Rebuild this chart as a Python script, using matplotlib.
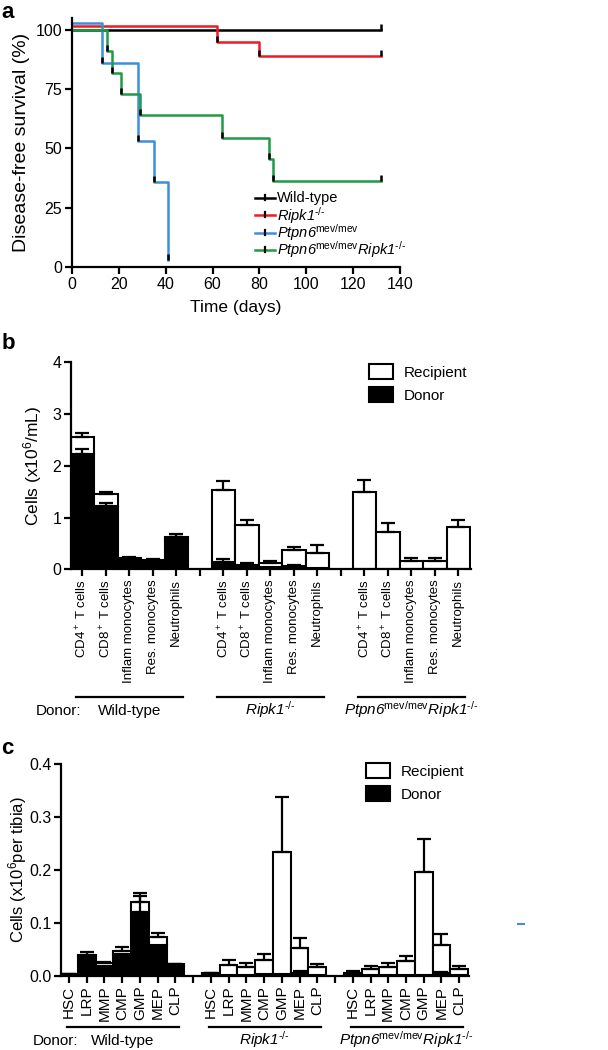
import numpy as np
import matplotlib.pyplot as plt
from matplotlib.lines import Line2D
from matplotlib.patches import Patch
from matplotlib.transforms import blended_transform_factory

plt.rcParams['font.family'] = ['Liberation Sans', 'DejaVu Sans']
plt.rcParams['mathtext.fontset'] = 'custom'
plt.rcParams['mathtext.rm'] = 'Liberation Sans'
plt.rcParams['mathtext.sf'] = 'Liberation Sans:italic'
plt.rcParams['mathtext.it'] = 'Liberation Sans:italic'

# ---- panel a : survival curves ----
wt_t = [0, 132]
wt_s = [100, 100]
ripk1_t = [0, 62, 80, 132]
ripk1_s = [101.5, 95, 89, 89]
ptpn6_t = [0, 13, 28, 35, 41]
ptpn6_s = [103, 86, 53, 36, 3]
dko_t = [0, 15, 17, 21, 29, 64, 84, 86, 132]
dko_s = [100, 91, 82, 73, 64, 54.5, 45.5, 36.4, 36.4]

HY = "\u2010"
KO = r"$\mathsf{Ripk1}^{\mathrm{" + HY + "/" + HY + r"}}$"
MEV = r"$\mathsf{Ptpn6}^{\mathrm{mev/mev}}$"
DKO = r"$\mathsf{Ptpn6}^{\mathrm{mev/mev}}\mathsf{Ripk1}^{\mathrm{" + HY + "/" + HY + r"}}$"
curve_names = ["Wild-type", KO, MEV, DKO]
curve_colors = ["black", "#ec1c24", "#3f8edb", "#1f9a45"]

# ---- panel b : blood cells (x10^6/mL) ----
b_cells = [r"CD4$^+$ T cells", r"CD8$^+$ T cells", "Inflam monocytes",
           "Res. monocytes", "Neutrophils"]
b_wt_total = [2.56, 1.46, 0.225, 0.187, 0.63]
b_wt_total_sem = [0.07, 0.03, 0.01, 0.008, 0.05]
b_wt_donor = [2.22, 1.22, 0.21, 0.17, 0.58]
b_wt_donor_sem = [0.11, 0.07, 0.01, 0.01, 0.04]
b_ripk1_total = [1.53, 0.85, 0.13, 0.37, 0.32]
b_ripk1_total_sem = [0.18, 0.1, 0.04, 0.06, 0.15]
b_ripk1_donor = [0.135, 0.09, 0.04, 0.06, 0.02]
b_ripk1_donor_sem = [0.065, 0.04, 0.0, 0.02, 0.0]
b_dko_total = [1.5, 0.72, 0.155, 0.155, 0.82]
b_dko_total_sem = [0.23, 0.17, 0.055, 0.055, 0.13]
b_dko_donor = [0.005, 0.005, 0.003, 0.003, 0.005]
b_dko_donor_sem = [0, 0, 0, 0, 0]

# ---- panel c : bone marrow progenitors (x10^6 per tibia) ----
c_cells = ["HSC", "LRP", "MMP", "CMP", "GMP", "MEP", "CLP"]
c_wt_total = [0.004, 0.04, 0.024, 0.048, 0.14, 0.073, 0.022]
c_wt_total_sem = [0.0, 0.006, 0.002, 0.006, 0.016, 0.009, 0.0]
c_wt_donor = [0.003, 0.038, 0.018, 0.042, 0.12, 0.059, 0.018]
c_wt_donor_sem = [0.0, 0.0, 0.0, 0.0, 0.03, 0.0, 0.0]
c_ripk1_total = [0.006, 0.02, 0.017, 0.031, 0.233, 0.052, 0.016]
c_ripk1_total_sem = [0.0, 0.01, 0.008, 0.011, 0.105, 0.019, 0.007]
c_ripk1_donor = [0.004, 0.001, 0.001, 0.003, 0.003, 0.006, 0.001]
c_ripk1_donor_sem = [0, 0, 0, 0, 0, 0.003, 0]
c_dko_total = [0.005, 0.0126, 0.016, 0.028, 0.196, 0.058, 0.0126]
c_dko_total_sem = [0.004, 0.006, 0.008, 0.01, 0.062, 0.021, 0.0054]
c_dko_donor = [0.002, 0.001, 0.001, 0.002, 0.002, 0.006, 0.001]
c_dko_donor_sem = [0, 0, 0, 0, 0, 0.002, 0]

donor_groups = ["Wild-type", KO, DKO]

W, H = 608, 1050
fig = plt.figure(figsize=(W / 100, H / 100), dpi=100)


def fx(px):
    return px / W


def fy(px):
    return 1 - px / H


def style_axes(ax):
    for sp in ['top', 'right']:
        ax.spines[sp].set_visible(False)
    for sp in ['left', 'bottom']:
        ax.spines[sp].set_linewidth(1.6)
    ax.tick_params(direction='out', width=1.6, length=5, labelsize=11.5, pad=2)


# ===== a =====
ax = fig.add_axes([0.1184, 0.7457, 0.5395, 0.2372])
style_axes(ax)
curves = [(wt_t, wt_s), (ripk1_t, ripk1_s), (ptpn6_t, ptpn6_s), (dko_t, dko_s)]
for (t, s), col in zip(curves, curve_colors):
    ax.step(t, s, where='post', color=col, lw=1.8, clip_on=False, zorder=2)
    # black event / censor marks
    ax.vlines(t[1:], np.array(s[1:]), np.array(s[1:]) + 2.5, colors='k', lw=1.8, zorder=3)
ax.set_xlim(0, 140)
ax.set_ylim(0, 105)
ax.set_xticks(range(0, 141, 20))
ax.set_yticks([0, 25, 50, 75, 100])
ax.set_xlabel("Time (days)", fontsize=12.5, labelpad=6)
ax.set_ylabel("Disease-free survival (%)", fontsize=14, labelpad=4)

# legend drawn by hand so the rows keep an even spacing
for i, (name, col) in enumerate(zip(curve_names, curve_colors)):
    yy = fy(198 + i * 17.3)
    fig.add_artist(Line2D([fx(255), fx(275)], [yy, yy], color=col, lw=1.8))
    fig.add_artist(Line2D([fx(265), fx(265)], [yy - 2 / H, yy + 3 / H], color='k', lw=1.6))
    fig.text(fx(277), yy, name, fontsize=10.5, va='center', ha='left')
fig.text(0.002, 0.998, "a", fontsize=16, fontweight='bold', va='top', ha='left')


def stacked_panel(ax, groups, labels, gap_step, lbl_size):
    n = len(labels)
    ticks, ticklabels = [], []
    for g, (tot, tot_sem, don, don_sem) in enumerate(groups):
        pos = np.arange(n) + g * gap_step
        tot = np.array(tot)
        don = np.array(don)
        ax.bar(pos, don, width=1.0, color='black', edgecolor='black', lw=1.5, zorder=2)
        ax.bar(pos, tot - don, bottom=don, width=1.0, color='white', edgecolor='black',
               lw=1.5, zorder=2)
        ax.errorbar(pos, tot, yerr=[np.zeros(n), tot_sem], fmt='none', ecolor='k',
                    elinewidth=1.6, capsize=5, capthick=1.6, zorder=3)
        dsem = np.array(don_sem)
        m = dsem > 0
        ax.errorbar(pos[m], don[m], yerr=[np.zeros(m.sum()), dsem[m]], fmt='none',
                    ecolor='k', elinewidth=1.6, capsize=5, capthick=1.6, zorder=3)
        ticks += list(pos)
        ticklabels += labels
        if g < len(groups) - 1:
            ticks.append(pos[-1] + 1)
            ticklabels.append("")
    ax.set_xticks(ticks)
    ax.set_xticklabels(ticklabels, rotation=90, fontsize=lbl_size)


def group_labels(ax, n, gap_step, line_y, text_y, donor_x, pad_l, pad_r):
    tr = blended_transform_factory(ax.transData, fig.transFigure)
    for g, name in enumerate(donor_groups):
        x0 = g * gap_step - pad_l
        x1 = g * gap_step + n - 1 + pad_r
        ax.add_line(Line2D([x0, x1], [line_y, line_y], color='k', lw=1.6,
                           transform=tr, clip_on=False))
        ax.text(g * gap_step + (n - 1) / 2, text_y, name, transform=tr, ha='center',
                va='baseline', fontsize=11, clip_on=False)
    fig.text(donor_x, text_y, "Donor:", ha='left', va='baseline', fontsize=11)


def rec_don_legend(ax, x, y):
    h = [Patch(facecolor='white', edgecolor='black', lw=1.5),
         Patch(facecolor='black', edgecolor='black', lw=1.5)]
    ax.legend(h, ["Recipient", "Donor"], loc='upper left', bbox_to_anchor=(x, y),
              bbox_transform=fig.transFigure, frameon=False, fontsize=11,
              handlelength=1.6, handleheight=1.1, handletextpad=0.7, labelspacing=0.5,
              borderaxespad=0, borderpad=0)


# ===== b =====
ax = fig.add_axes([0.1168, 0.4578, 0.6579, 0.1971])
style_axes(ax)
b_groups = [(b_wt_total, b_wt_total_sem, b_wt_donor, b_wt_donor_sem),
            (b_ripk1_total, b_ripk1_total_sem, b_ripk1_donor, b_ripk1_donor_sem),
            (b_dko_total, b_dko_total_sem, b_dko_donor, b_dko_donor_sem)]
stacked_panel(ax, b_groups, b_cells, 6, 9.5)
ax.set_xlim(-0.48, 16.54)
ax.set_ylim(0, 4)
ax.set_yticks([0, 1, 2, 3, 4])
ax.set_ylabel(r"Cells (x10$^6$/mL)", fontsize=12.5, labelpad=6)
group_labels(ax, 5, 6, fy(696.7), fy(715), fx(36), 0.25, 0.3)
rec_don_legend(ax, fx(369), fy(364))
fig.text(0.002, fy(333), "b", fontsize=16, fontweight='bold', va='top', ha='left')

# ===== c =====
ax = fig.add_axes([0.1003, 0.0705, 0.671, 0.2019])
style_axes(ax)
c_groups = [(c_wt_total, c_wt_total_sem, c_wt_donor, c_wt_donor_sem),
            (c_ripk1_total, c_ripk1_total_sem, c_ripk1_donor, c_ripk1_donor_sem),
            (c_dko_total, c_dko_total_sem, c_dko_donor, c_dko_donor_sem)]
stacked_panel(ax, c_groups, c_cells, 8, 11)
ax.set_xlim(-0.45, 22.55)
ax.set_ylim(0, 0.4)
ax.set_yticks([0.0, 0.1, 0.2, 0.3, 0.4])
ax.set_yticklabels(["0.0", "0.1", "0.2", "0.3", "0.4"])
ax.set_ylabel(r"Cells (x10$^6$per tibia)", fontsize=12, labelpad=0)
group_labels(ax, 7, 8, fy(1027), fy(1045), fx(33), 0.1, 0.2)
rec_don_legend(ax, fx(366), fy(763))
fig.text(0.002, fy(738), "c", fontsize=16, fontweight='bold', va='top', ha='left')

# small stray blue mark at the right edge of the original figure
fig.add_artist(Line2D([fx(518), fx(524)], [fy(924)] * 2, color='#3f8edb', lw=1.5))

fig.savefig("out.png", dpi=100)
plt.close(fig)
